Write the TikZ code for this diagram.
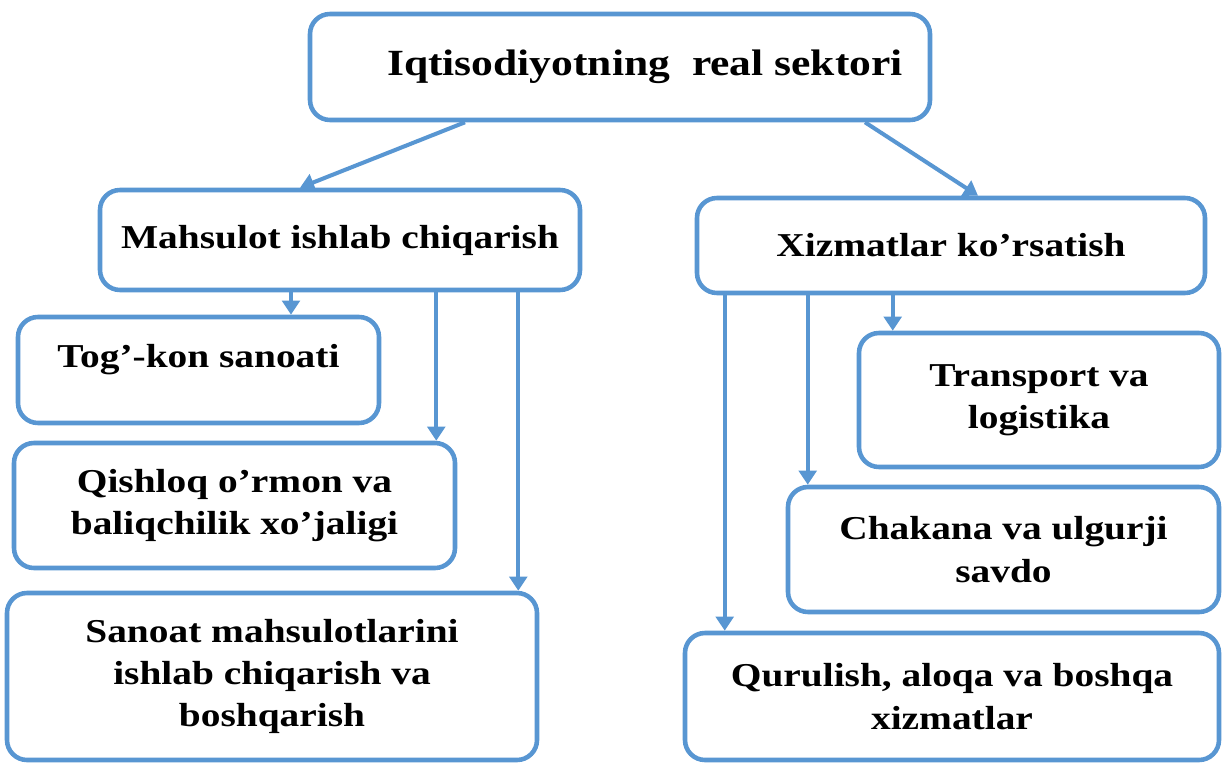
\documentclass[tikz,border=0pt]{standalone}
\usepackage{fontspec}
\setmainfont{Liberation Serif}[FakeStretch=1.18]
\usetikzlibrary{arrows.meta}
\definecolor{boxblue}{RGB}{88,150,210}

\begin{document}
\begin{tikzpicture}[
        box/.style={draw=boxblue, line width=2.6pt, rounded corners=0.4cm, fill=white, align=center, inner sep=0pt, font=\fontsize{19}{24}\selectfont\bfseries},
        arr/.style={draw=boxblue, line width=2.3pt, -{Triangle[width=10pt,length=8pt]}}
    ]
        \useasboundingbox (0,0) rectangle (24.5,-15.3);

        \node (sektor) [box, minimum width=12.4cm, minimum height=2.12cm, font=\fontsize{21}{26}\selectfont\bfseries] at (12.4,-1.34) {\hspace*{1cm}Iqtisodiyotning~ real sektori};

        \node (mahsulot) [box, minimum width=9.6cm, minimum height=2cm] at (6.8,-4.8) {Mahsulot ishlab chiqarish};
        \node (xizmat) [box, minimum width=10.16cm, minimum height=1.9cm] at (19.02,-4.91) {Xizmatlar ko’rsatish};

        \node (togkon) [box, minimum width=7.22cm, minimum height=2.12cm, text depth=0.55cm] at (3.97,-7.4) {Tog’-kon sanoati};
        \node (qishloq) [box, minimum width=8.82cm, minimum height=2.5cm] at (4.69,-10.11) {Qishloq o’rmon va\\baliqchilik xo’jaligi};
        \node (sanoat) [box, minimum width=10.6cm, minimum height=3.34cm] at (5.44,-13.53) {Sanoat mahsulotlarini\\ishlab chiqarish va\\boshqarish};

        \node (transport) [box, minimum width=7.2cm, minimum height=2.68cm] at (20.78,-8.0) {Transport va\\logistika};
        \node (chakana) [box, minimum width=8.62cm, minimum height=2.5cm] at (20.07,-10.99) {Chakana va ulgurji\\savdo};
        \node (qurulish) [box, minimum width=10.68cm, minimum height=2.54cm] at (19.04,-13.93) {Qurulish, aloqa va boshqa\\xizmatlar};

        \draw[arr] ([xshift=-3.1cm]sektor.south) -- ([xshift=-0.8cm]mahsulot.north);
        \draw[arr] ([xshift=4.9cm]sektor.south) -- ([xshift=0.54cm]xizmat.north);

        \draw[arr] ([xshift=1.85cm]togkon.north |- mahsulot.south) -- ([xshift=1.85cm]togkon.north);
        \draw[arr] ([xshift=-0.42cm]qishloq.north east |- mahsulot.south) -- ([xshift=-0.42cm]qishloq.north east);
        \draw[arr] ([xshift=-0.42cm]sanoat.north east |- mahsulot.south) -- ([xshift=-0.42cm]sanoat.north east);

        \draw[arr] ([xshift=0.72cm]transport.north west |- xizmat.south) -- ([xshift=0.72cm]transport.north west);
        \draw[arr] ([xshift=0.44cm]chakana.north west |- xizmat.south) -- ([xshift=0.44cm]chakana.north west);
        \draw[arr] ([xshift=0.84cm]qurulish.north west |- xizmat.south) -- ([xshift=0.84cm]qurulish.north west);
\end{tikzpicture}
\end{document}
